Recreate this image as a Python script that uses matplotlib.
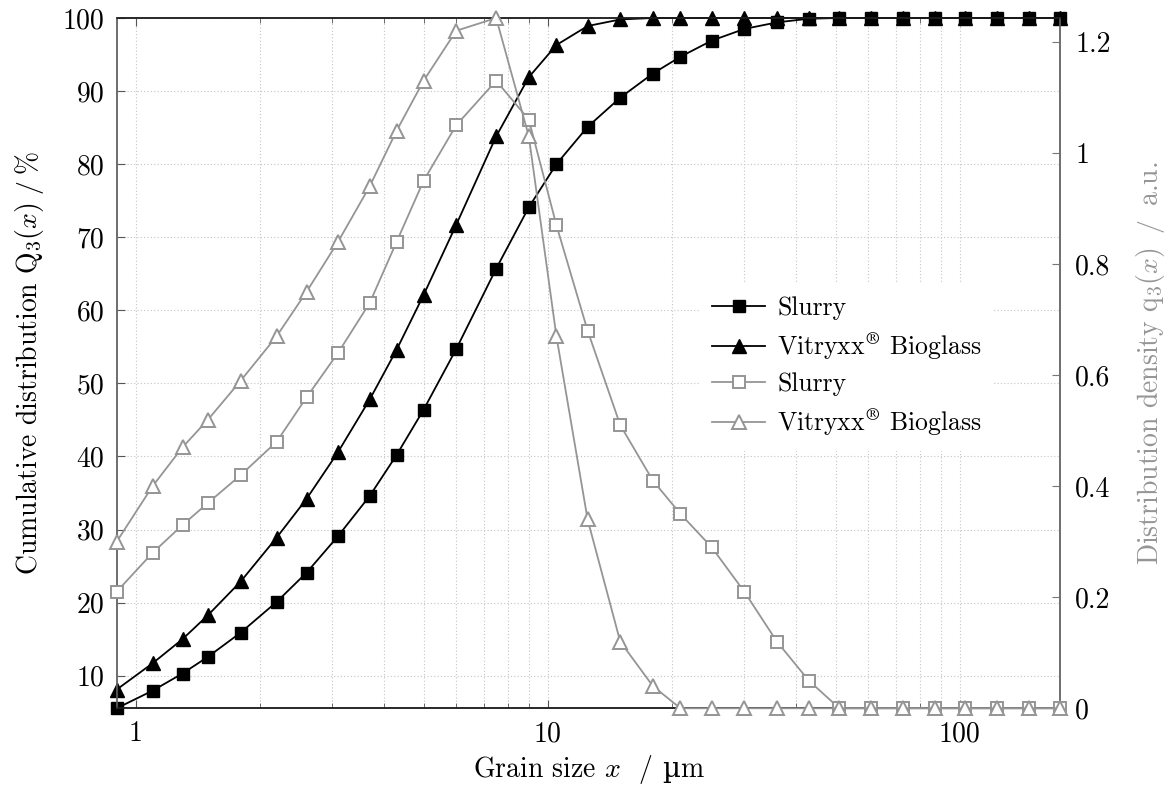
import matplotlib
matplotlib.use("Agg")
import matplotlib.pyplot as plt
from matplotlib.ticker import FixedLocator, NullFormatter, LogLocator
from matplotlib.offsetbox import TextArea, HPacker, AnchoredOffsetbox

plt.rcParams['font.family'] = ['cmr10', 'DejaVu Serif']
plt.rcParams['mathtext.fontset'] = 'cm'
plt.rcParams['axes.formatter.use_mathtext'] = True
plt.rcParams['axes.unicode_minus'] = False

# Grain sizes (µm)
grain_size = [0.9, 1.1, 1.3, 1.5, 1.8, 2.2, 2.6, 3.1, 3.7, 4.3, 5.0, 6.0, 7.5, 9.0, 10.5,
              12.5, 15, 18, 21, 25, 30, 36, 43, 51, 61, 73, 87, 103, 123, 147, 175]

# Cumulative distribution Q3 (%)
slurry_Q3 = [5.54, 7.95, 10.3, 12.6, 15.9, 20.1, 24.1, 29.1, 34.6, 40.2, 46.4, 54.7, 65.7, 74.1, 80.0,
             85.1, 89.1, 92.4, 94.7, 96.9, 98.5, 99.4, 99.9, 100, 100, 100, 100, 100, 100, 100, 100]
bioglass_Q3 = [8.1, 11.7, 15.0, 18.3, 22.9, 28.9, 34.2, 40.6, 47.8, 54.6, 62.1, 71.7, 83.8, 91.9, 96.3,
               98.9, 99.8, 100, 100, 100, 100, 100, 100, 100, 100, 100, 100, 100, 100, 100, 100]

# Distribution density q3 (a.u.)
slurry_q3 = [0.21, 0.28, 0.33, 0.37, 0.42, 0.48, 0.56, 0.64, 0.73, 0.84, 0.95, 1.05, 1.13, 1.06, 0.87,
             0.68, 0.51, 0.41, 0.35, 0.29, 0.21, 0.12, 0.05, 0, 0, 0, 0, 0, 0, 0, 0]
bioglass_q3 = [0.30, 0.40, 0.47, 0.52, 0.59, 0.67, 0.75, 0.84, 0.94, 1.04, 1.13, 1.22, 1.243, 1.03, 0.67,
               0.34, 0.12, 0.04, 0, 0, 0, 0, 0, 0, 0, 0, 0, 0, 0, 0, 0]

left_ticks = [10, 20, 30, 40, 50, 60, 70, 80, 90, 100]
right_ticks = [0, 0.2, 0.4, 0.6, 0.8, 1, 1.2]
right_tick_labels = ['0', '0.2', '0.4', '0.6', '0.8', '1', '1.2']
x_ticks = [1, 10, 100]
x_tick_labels = ['1', '10', '100']

GRAY = '#959595'
FS = 20
LFS = 18.5

fig = plt.figure(figsize=(11.68, 7.89), dpi=100)
ax = fig.add_axes([0.0999, 0.1023, 0.8076, 0.8749])
ax2 = ax.twinx()

l1, = ax.plot(grain_size, slurry_Q3, color='black', lw=1.3, marker='s', ms=8,
              mfc='black', mec='black', label='Slurry', zorder=3, clip_on=False)
l2, = ax.plot(grain_size, bioglass_Q3, color='black', lw=1.3, marker='^', ms=10,
              mfc='black', mec='black', label=r'Vitryxx$^{\circledR}$ Bioglass', zorder=3, clip_on=False)
l3, = ax2.plot(grain_size, slurry_q3, color=GRAY, lw=1.3, marker='s', ms=8.5,
               mfc='white', mec=GRAY, mew=1.4, label='Slurry', zorder=3, clip_on=False)
l4, = ax2.plot(grain_size, bioglass_q3, color=GRAY, lw=1.3, marker='^', ms=10.5,
               mfc='white', mec=GRAY, mew=1.4, label=r'Vitryxx$^{\circledR}$ Bioglass', zorder=3, clip_on=False)

ax.set_xscale('log')
ax.set_xlim(min(grain_size), max(grain_size))
ax.set_ylim(min(slurry_Q3), 100)
ax2.set_ylim(0, max(bioglass_q3))

ax.xaxis.set_major_locator(FixedLocator(x_ticks))
ax.set_xticklabels(x_tick_labels)
ax.xaxis.set_minor_locator(LogLocator(base=10, subs=range(2, 10)))
ax.xaxis.set_minor_formatter(NullFormatter())
ax.set_yticks(left_ticks)
ax.set_yticklabels([str(t) for t in left_ticks])
ax2.set_yticks(right_ticks)
ax2.set_yticklabels(right_tick_labels)

ax.grid(True, which='major', axis='y', ls=(0, (1, 2)), color='#c4c4c4', lw=0.8)
ax.grid(True, which='both', axis='x', ls=(0, (1, 2)), color='#c4c4c4', lw=0.8)
ax.set_axisbelow(True)

ax.tick_params(axis='both', which='major', direction='in', length=6, labelsize=FS, pad=9, color='#555555')
ax.tick_params(axis='x', which='minor', direction='in', length=3.5, color='#555555')
ax.tick_params(axis='x', which='both', top=True)
ax2.tick_params(axis='y', which='major', direction='in', length=6, labelsize=FS, pad=11, color='#777777')

for s in ['left', 'right']:
    ax.spines[s].set_color('#6a6a6a')
    ax2.spines[s].set_color('#6a6a6a')
for s in ['bottom', 'top']:
    ax.spines[s].set_color('#222222')
    ax2.spines[s].set_color('#222222')
for a in (ax, ax2):
    for s in a.spines.values():
        s.set_linewidth(1.1)

# x label composed so that the upright micro sign comes from a font that has it
unit_box = HPacker(children=[
    TextArea('\u00b5', textprops=dict(fontsize=FS, family=['DejaVu Serif'])),
    TextArea('m', textprops=dict(fontsize=FS, family=['cmr10'])),
], align='baseline', pad=0, sep=0)
xl_box = HPacker(children=[
    TextArea(r'Grain size $x$  /', textprops=dict(fontsize=FS, family=['cmr10'])),
    unit_box,
], align='baseline', pad=0, sep=7)
xl_anchor = AnchoredOffsetbox(loc='center', child=xl_box, frameon=False, pad=0, borderpad=0,
                              bbox_to_anchor=(0.5, -0.088), bbox_transform=ax.transAxes)
ax.add_artist(xl_anchor)

ax.set_ylabel(r'Cumulative distribution $\mathrm{Q}_3(x)\;/\;\%$', fontsize=FS, labelpad=12)
ax2.set_ylabel(r'Distribution density $\mathrm{q}_3(x)\;\;/\;\;$a.u.', fontsize=FS, color=GRAY, labelpad=17)

leg = ax2.legend(handles=[l1, l2, l3, l4], loc='center left', bbox_to_anchor=(0.617, 0.494),
                 fontsize=LFS, frameon=True, facecolor='white', edgecolor='none', framealpha=1,
                 borderaxespad=0, handlelength=2.1, handletextpad=0.45, labelspacing=0.4,
                 borderpad=0.5, fancybox=False)
leg.set_zorder(10)

fig.savefig('out.png', dpi=100)
